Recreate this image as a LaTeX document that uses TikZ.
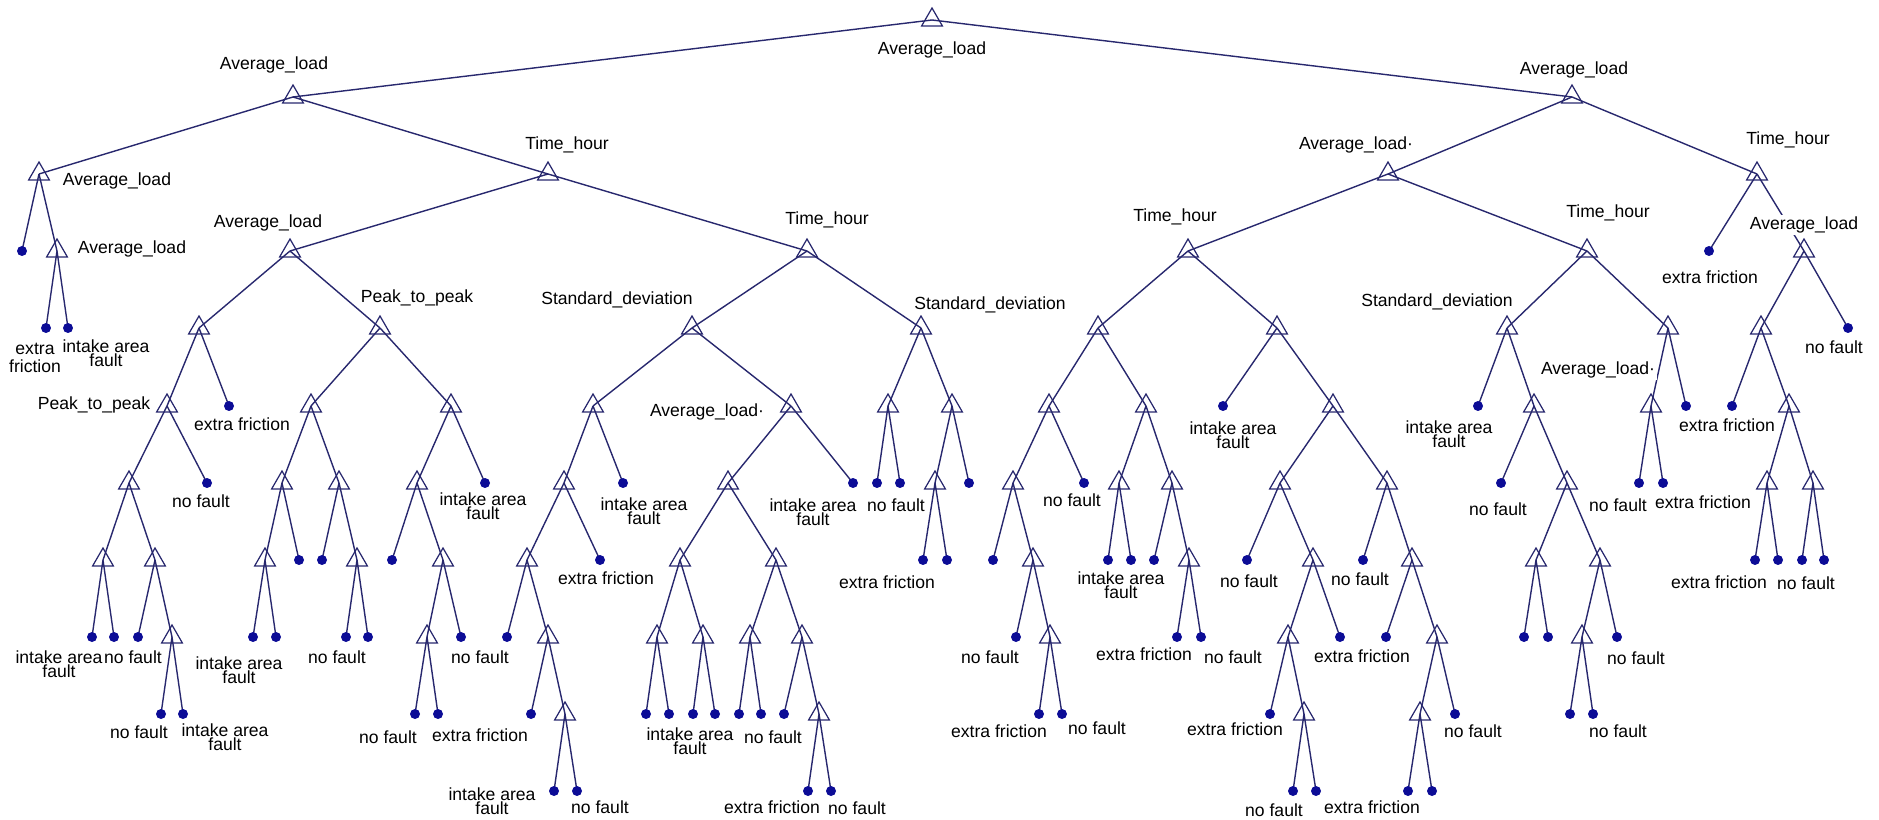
\documentclass[tikz,border=0pt]{standalone}
\usepackage{fontspec}
\setmainfont{Liberation Sans}
\usetikzlibrary{shapes.geometric,backgrounds}

\definecolor{treeline}{RGB}{40,40,110}
\definecolor{leafdot}{RGB}{12,12,150}

\def\px{0.02cm}

\begin{document}
\begin{tikzpicture}[x=\px, y=-\px,
    splitnode/.style={regular polygon, regular polygon sides=3, draw=treeline, line width=0.7pt, minimum size=0.48cm, inner sep=0pt},
    leafnode/.style={circle, fill=leafdot, minimum size=0.2cm, inner sep=0pt},
    lbl/.style={fill=white, inner sep=1pt, font=\fontsize{10}{12}\selectfont},
    leaflbl/.style={align=center, inner sep=0pt, font=\fontsize{10}{8}\selectfont},
    edge/.style={draw=treeline, line width=0.8pt}]
      \useasboundingbox (0,0) rectangle (1879,820);

      % split nodes
      \node[splitnode] (r) at (932,20) {};
      \node[splitnode] (r0) at (293,97) {};
      \node[splitnode] (r1) at (1572,97) {};
      \node[splitnode] (r00) at (39,174) {};
      \node[splitnode] (r01) at (548,174) {};
      \node[splitnode] (r10) at (1388,174) {};
      \node[splitnode] (r11) at (1757,174) {};
      \node[splitnode] (r001) at (57,251) {};
      \node[splitnode] (r010) at (290,251) {};
      \node[splitnode] (r011) at (807,251) {};
      \node[splitnode] (r100) at (1188,251) {};
      \node[splitnode] (r101) at (1587,251) {};
      \node[splitnode] (r111) at (1804,251) {};
      \node[splitnode] (r0100) at (199,328) {};
      \node[splitnode] (r0101) at (380,328) {};
      \node[splitnode] (r0110) at (692,328) {};
      \node[splitnode] (r0111) at (921,328) {};
      \node[splitnode] (r1000) at (1098,328) {};
      \node[splitnode] (r1001) at (1277,328) {};
      \node[splitnode] (r1010) at (1507,328) {};
      \node[splitnode] (r1011) at (1668,328) {};
      \node[splitnode] (r1110) at (1761,328) {};
      \node[splitnode] (r01000) at (167,406) {};
      \node[splitnode] (r01010) at (311,406) {};
      \node[splitnode] (r01011) at (451,406) {};
      \node[splitnode] (r01100) at (593,406) {};
      \node[splitnode] (r01101) at (791,406) {};
      \node[splitnode] (r01110) at (888,406) {};
      \node[splitnode] (r01111) at (952,406) {};
      \node[splitnode] (r10000) at (1049,406) {};
      \node[splitnode] (r10001) at (1146,406) {};
      \node[splitnode] (r10011) at (1333,406) {};
      \node[splitnode] (r10101) at (1534,406) {};
      \node[splitnode] (r10110) at (1651,406) {};
      \node[splitnode] (r11101) at (1789,406) {};
      \node[splitnode] (r010000) at (129,483) {};
      \node[splitnode] (r010100) at (282,483) {};
      \node[splitnode] (r010101) at (339,483) {};
      \node[splitnode] (r010110) at (417,483) {};
      \node[splitnode] (r011000) at (564,483) {};
      \node[splitnode] (r011010) at (728,483) {};
      \node[splitnode] (r011110) at (935,483) {};
      \node[splitnode] (r100000) at (1013,483) {};
      \node[splitnode] (r100010) at (1119,483) {};
      \node[splitnode] (r100011) at (1172,483) {};
      \node[splitnode] (r100110) at (1280,483) {};
      \node[splitnode] (r100111) at (1387,483) {};
      \node[splitnode] (r101011) at (1567,483) {};
      \node[splitnode] (r111010) at (1767,483) {};
      \node[splitnode] (r111011) at (1813,483) {};
      \node[splitnode] (r0100000) at (103,560) {};
      \node[splitnode] (r0100001) at (155,560) {};
      \node[splitnode] (r0101000) at (265,560) {};
      \node[splitnode] (r0101011) at (357,560) {};
      \node[splitnode] (r0101101) at (443,560) {};
      \node[splitnode] (r0110000) at (527,560) {};
      \node[splitnode] (r0110100) at (680,560) {};
      \node[splitnode] (r0110101) at (776,560) {};
      \node[splitnode] (r1000001) at (1033,560) {};
      \node[splitnode] (r1000111) at (1189,560) {};
      \node[splitnode] (r1001101) at (1313,560) {};
      \node[splitnode] (r1001111) at (1412,560) {};
      \node[splitnode] (r1010110) at (1536,560) {};
      \node[splitnode] (r1010111) at (1600,560) {};
      \node[splitnode] (r01000011) at (172,637) {};
      \node[splitnode] (r01011010) at (427,637) {};
      \node[splitnode] (r01100001) at (548,637) {};
      \node[splitnode] (r01101000) at (657,637) {};
      \node[splitnode] (r01101001) at (703,637) {};
      \node[splitnode] (r01101010) at (750,637) {};
      \node[splitnode] (r01101011) at (802,637) {};
      \node[splitnode] (r10000011) at (1050,637) {};
      \node[splitnode] (r10011010) at (1288,637) {};
      \node[splitnode] (r10011111) at (1437,637) {};
      \node[splitnode] (r10101110) at (1582,637) {};
      \node[splitnode] (r011000011) at (565,714) {};
      \node[splitnode] (r011010111) at (819,714) {};
      \node[splitnode] (r100110101) at (1304,714) {};
      \node[splitnode] (r100111110) at (1420,714) {};

      % leaves
      \node[leafnode] (r000) at (22,251) {};
      \node[leafnode] (r110) at (1709,251) {};
      \node[leafnode] (r0010) at (46,328) {};
      \node[leafnode] (r0011) at (68,328) {};
      \node[leafnode] (r1111) at (1848,328) {};
      \node[leafnode] (r01001) at (229,406) {};
      \node[leafnode] (r10010) at (1223,406) {};
      \node[leafnode] (r10100) at (1478,406) {};
      \node[leafnode] (r10111) at (1686,406) {};
      \node[leafnode] (r11100) at (1732,406) {};
      \node[leafnode] (r010001) at (207,483) {};
      \node[leafnode] (r010111) at (485,483) {};
      \node[leafnode] (r011001) at (623,483) {};
      \node[leafnode] (r011011) at (853,483) {};
      \node[leafnode] (r011100) at (877,483) {};
      \node[leafnode] (r011101) at (900,483) {};
      \node[leafnode] (r011111) at (969,483) {};
      \node[leafnode] (r100001) at (1084,483) {};
      \node[leafnode] (r101010) at (1501,483) {};
      \node[leafnode] (r101100) at (1639,483) {};
      \node[leafnode] (r101101) at (1663,483) {};
      \node[leafnode] (r0101001) at (299,560) {};
      \node[leafnode] (r0101010) at (322,560) {};
      \node[leafnode] (r0101100) at (392,560) {};
      \node[leafnode] (r0110001) at (600,560) {};
      \node[leafnode] (r0111100) at (923,560) {};
      \node[leafnode] (r0111101) at (947,560) {};
      \node[leafnode] (r1000000) at (993,560) {};
      \node[leafnode] (r1000100) at (1108,560) {};
      \node[leafnode] (r1000101) at (1131,560) {};
      \node[leafnode] (r1000110) at (1154,560) {};
      \node[leafnode] (r1001100) at (1247,560) {};
      \node[leafnode] (r1001110) at (1363,560) {};
      \node[leafnode] (r1110100) at (1755,560) {};
      \node[leafnode] (r1110101) at (1778,560) {};
      \node[leafnode] (r1110110) at (1802,560) {};
      \node[leafnode] (r1110111) at (1824,560) {};
      \node[leafnode] (r01000000) at (92,637) {};
      \node[leafnode] (r01000001) at (114,637) {};
      \node[leafnode] (r01000010) at (138,637) {};
      \node[leafnode] (r01010000) at (253,637) {};
      \node[leafnode] (r01010001) at (276,637) {};
      \node[leafnode] (r01010110) at (346,637) {};
      \node[leafnode] (r01010111) at (368,637) {};
      \node[leafnode] (r01011011) at (461,637) {};
      \node[leafnode] (r01100000) at (507,637) {};
      \node[leafnode] (r10000010) at (1016,637) {};
      \node[leafnode] (r10001110) at (1177,637) {};
      \node[leafnode] (r10001111) at (1201,637) {};
      \node[leafnode] (r10011011) at (1340,637) {};
      \node[leafnode] (r10011110) at (1386,637) {};
      \node[leafnode] (r10101100) at (1524,637) {};
      \node[leafnode] (r10101101) at (1548,637) {};
      \node[leafnode] (r10101111) at (1617,637) {};
      \node[leafnode] (r010000110) at (161,714) {};
      \node[leafnode] (r010000111) at (183,714) {};
      \node[leafnode] (r010110100) at (415,714) {};
      \node[leafnode] (r010110101) at (438,714) {};
      \node[leafnode] (r011000010) at (531,714) {};
      \node[leafnode] (r011010000) at (646,714) {};
      \node[leafnode] (r011010001) at (669,714) {};
      \node[leafnode] (r011010010) at (693,714) {};
      \node[leafnode] (r011010011) at (715,714) {};
      \node[leafnode] (r011010100) at (739,714) {};
      \node[leafnode] (r011010101) at (761,714) {};
      \node[leafnode] (r011010110) at (784,714) {};
      \node[leafnode] (r100000110) at (1039,714) {};
      \node[leafnode] (r100000111) at (1062,714) {};
      \node[leafnode] (r100110100) at (1270,714) {};
      \node[leafnode] (r100111111) at (1455,714) {};
      \node[leafnode] (r101011100) at (1570,714) {};
      \node[leafnode] (r101011101) at (1593,714) {};
      \node[leafnode] (r0110000110) at (554,791) {};
      \node[leafnode] (r0110000111) at (577,791) {};
      \node[leafnode] (r0110101110) at (808,791) {};
      \node[leafnode] (r0110101111) at (831,791) {};
      \node[leafnode] (r1001101010) at (1293,791) {};
      \node[leafnode] (r1001101011) at (1316,791) {};
      \node[leafnode] (r1001111100) at (1408,791) {};
      \node[leafnode] (r1001111101) at (1432,791) {};

      \begin{scope}[on background layer]
      \draw[edge] (r.center) -- (r0.center) (r.center) -- (r1.center);
      \draw[edge] (r0.center) -- (r00.center) (r0.center) -- (r01.center);
      \draw[edge] (r1.center) -- (r10.center) (r1.center) -- (r11.center);
      \draw[edge] (r00.center) -- (r000.center) (r00.center) -- (r001.center);
      \draw[edge] (r001.center) -- (r0010.center) (r001.center) -- (r0011.center);
      \draw[edge] (r01.center) -- (r010.center) (r01.center) -- (r011.center);
      \draw[edge] (r010.center) -- (r0100.center) (r010.center) -- (r0101.center);
      \draw[edge] (r0100.center) -- (r01000.center) (r0100.center) -- (r01001.center);
      \draw[edge] (r01000.center) -- (r010000.center) (r01000.center) -- (r010001.center);
      \draw[edge] (r010000.center) -- (r0100000.center) (r010000.center) -- (r0100001.center);
      \draw[edge] (r0100000.center) -- (r01000000.center) (r0100000.center) -- (r01000001.center);
      \draw[edge] (r0100001.center) -- (r01000010.center) (r0100001.center) -- (r01000011.center);
      \draw[edge] (r01000011.center) -- (r010000110.center) (r01000011.center) -- (r010000111.center);
      \draw[edge] (r0101.center) -- (r01010.center) (r0101.center) -- (r01011.center);
      \draw[edge] (r01010.center) -- (r010100.center) (r01010.center) -- (r010101.center);
      \draw[edge] (r010100.center) -- (r0101000.center) (r010100.center) -- (r0101001.center);
      \draw[edge] (r0101000.center) -- (r01010000.center) (r0101000.center) -- (r01010001.center);
      \draw[edge] (r010101.center) -- (r0101010.center) (r010101.center) -- (r0101011.center);
      \draw[edge] (r0101011.center) -- (r01010110.center) (r0101011.center) -- (r01010111.center);
      \draw[edge] (r01011.center) -- (r010110.center) (r01011.center) -- (r010111.center);
      \draw[edge] (r010110.center) -- (r0101100.center) (r010110.center) -- (r0101101.center);
      \draw[edge] (r0101101.center) -- (r01011010.center) (r0101101.center) -- (r01011011.center);
      \draw[edge] (r01011010.center) -- (r010110100.center) (r01011010.center) -- (r010110101.center);
      \draw[edge] (r011.center) -- (r0110.center) (r011.center) -- (r0111.center);
      \draw[edge] (r0110.center) -- (r01100.center) (r0110.center) -- (r01101.center);
      \draw[edge] (r01100.center) -- (r011000.center) (r01100.center) -- (r011001.center);
      \draw[edge] (r011000.center) -- (r0110000.center) (r011000.center) -- (r0110001.center);
      \draw[edge] (r0110000.center) -- (r01100000.center) (r0110000.center) -- (r01100001.center);
      \draw[edge] (r01100001.center) -- (r011000010.center) (r01100001.center) -- (r011000011.center);
      \draw[edge] (r011000011.center) -- (r0110000110.center) (r011000011.center) -- (r0110000111.center);
      \draw[edge] (r01101.center) -- (r011010.center) (r01101.center) -- (r011011.center);
      \draw[edge] (r011010.center) -- (r0110100.center) (r011010.center) -- (r0110101.center);
      \draw[edge] (r0110100.center) -- (r01101000.center) (r0110100.center) -- (r01101001.center);
      \draw[edge] (r01101000.center) -- (r011010000.center) (r01101000.center) -- (r011010001.center);
      \draw[edge] (r01101001.center) -- (r011010010.center) (r01101001.center) -- (r011010011.center);
      \draw[edge] (r0110101.center) -- (r01101010.center) (r0110101.center) -- (r01101011.center);
      \draw[edge] (r01101010.center) -- (r011010100.center) (r01101010.center) -- (r011010101.center);
      \draw[edge] (r01101011.center) -- (r011010110.center) (r01101011.center) -- (r011010111.center);
      \draw[edge] (r011010111.center) -- (r0110101110.center) (r011010111.center) -- (r0110101111.center);
      \draw[edge] (r0111.center) -- (r01110.center) (r0111.center) -- (r01111.center);
      \draw[edge] (r01110.center) -- (r011100.center) (r01110.center) -- (r011101.center);
      \draw[edge] (r01111.center) -- (r011110.center) (r01111.center) -- (r011111.center);
      \draw[edge] (r011110.center) -- (r0111100.center) (r011110.center) -- (r0111101.center);
      \draw[edge] (r10.center) -- (r100.center) (r10.center) -- (r101.center);
      \draw[edge] (r100.center) -- (r1000.center) (r100.center) -- (r1001.center);
      \draw[edge] (r1000.center) -- (r10000.center) (r1000.center) -- (r10001.center);
      \draw[edge] (r10000.center) -- (r100000.center) (r10000.center) -- (r100001.center);
      \draw[edge] (r100000.center) -- (r1000000.center) (r100000.center) -- (r1000001.center);
      \draw[edge] (r1000001.center) -- (r10000010.center) (r1000001.center) -- (r10000011.center);
      \draw[edge] (r10000011.center) -- (r100000110.center) (r10000011.center) -- (r100000111.center);
      \draw[edge] (r10001.center) -- (r100010.center) (r10001.center) -- (r100011.center);
      \draw[edge] (r100010.center) -- (r1000100.center) (r100010.center) -- (r1000101.center);
      \draw[edge] (r100011.center) -- (r1000110.center) (r100011.center) -- (r1000111.center);
      \draw[edge] (r1000111.center) -- (r10001110.center) (r1000111.center) -- (r10001111.center);
      \draw[edge] (r1001.center) -- (r10010.center) (r1001.center) -- (r10011.center);
      \draw[edge] (r10011.center) -- (r100110.center) (r10011.center) -- (r100111.center);
      \draw[edge] (r100110.center) -- (r1001100.center) (r100110.center) -- (r1001101.center);
      \draw[edge] (r1001101.center) -- (r10011010.center) (r1001101.center) -- (r10011011.center);
      \draw[edge] (r10011010.center) -- (r100110100.center) (r10011010.center) -- (r100110101.center);
      \draw[edge] (r100110101.center) -- (r1001101010.center) (r100110101.center) -- (r1001101011.center);
      \draw[edge] (r100111.center) -- (r1001110.center) (r100111.center) -- (r1001111.center);
      \draw[edge] (r1001111.center) -- (r10011110.center) (r1001111.center) -- (r10011111.center);
      \draw[edge] (r10011111.center) -- (r100111110.center) (r10011111.center) -- (r100111111.center);
      \draw[edge] (r100111110.center) -- (r1001111100.center) (r100111110.center) -- (r1001111101.center);
      \draw[edge] (r101.center) -- (r1010.center) (r101.center) -- (r1011.center);
      \draw[edge] (r1010.center) -- (r10100.center) (r1010.center) -- (r10101.center);
      \draw[edge] (r10101.center) -- (r101010.center) (r10101.center) -- (r101011.center);
      \draw[edge] (r101011.center) -- (r1010110.center) (r101011.center) -- (r1010111.center);
      \draw[edge] (r1010110.center) -- (r10101100.center) (r1010110.center) -- (r10101101.center);
      \draw[edge] (r1010111.center) -- (r10101110.center) (r1010111.center) -- (r10101111.center);
      \draw[edge] (r10101110.center) -- (r101011100.center) (r10101110.center) -- (r101011101.center);
      \draw[edge] (r1011.center) -- (r10110.center) (r1011.center) -- (r10111.center);
      \draw[edge] (r10110.center) -- (r101100.center) (r10110.center) -- (r101101.center);
      \draw[edge] (r11.center) -- (r110.center) (r11.center) -- (r111.center);
      \draw[edge] (r111.center) -- (r1110.center) (r111.center) -- (r1111.center);
      \draw[edge] (r1110.center) -- (r11100.center) (r1110.center) -- (r11101.center);
      \draw[edge] (r11101.center) -- (r111010.center) (r11101.center) -- (r111011.center);
      \draw[edge] (r111010.center) -- (r1110100.center) (r111010.center) -- (r1110101.center);
      \draw[edge] (r111011.center) -- (r1110110.center) (r111011.center) -- (r1110111.center);
      \end{scope}

      % split labels
      \node[lbl] (tr) at (932,50) {Average\_load};
      \node[lbl] (tr0) at (274,65) {Average\_load};
      \node[lbl] (tr1) at (1574,70) {Average\_load};
      \node[lbl] (tr00) at (117,181) {Average\_load};
      \node[lbl] (tr01) at (567,145) {Time\_hour};
      \node[lbl] (tr001) at (132,249) {Average\_load};
      \node[lbl] (tr010) at (268,223) {Average\_load};
      \node[lbl] (tr011) at (827,220) {Time\_hour};
      \node[lbl] (tr0101) at (417,298) {Peak\_to\_peak};
      \node[lbl] (tr01000) at (94,405) {Peak\_to\_peak};
      \node[lbl] (tr0110) at (617,300) {Standard\_deviation};
      \node[lbl] (tr0111) at (990,305) {Standard\_deviation};
      \node[lbl] (tr01101) at (707,412) {Average\_load·};
      \node[lbl] (tr10) at (1356,145) {Average\_load·};
      \node[lbl] (tr11) at (1788,140) {Time\_hour};
      \node[lbl] (tr100) at (1175,217) {Time\_hour};
      \node[lbl] (tr101) at (1608,213) {Time\_hour};
      \node[lbl] (tr1010) at (1437,302) {Standard\_deviation};
      \node[lbl] (tr1011) at (1598,370) {Average\_load·};
      \node[lbl] (tr111) at (1804,225) {Average\_load};

      % leaf labels
      \node[leaflbl, font=\fontsize{10}{9.8}\selectfont] (tr0010) at (35,358) {extra\\friction};
      \node[leaflbl] (tr0011) at (106,353) {intake area\\fault};
      \node[leaflbl] (tr01001) at (242,424) {extra friction};
      \node[leaflbl] (tr010001) at (201,501) {no fault};
      \node[leaflbl] (tr01000000) at (59,664) {intake area\\fault};
      \node[leaflbl] (tr01000001) at (133,657) {no fault};
      \node[leaflbl] (tr010000110) at (139,732) {no fault};
      \node[leaflbl] (tr010000111) at (225,737) {intake area\\fault};
      \node[leaflbl] (tr01010000) at (239,670) {intake area\\fault};
      \node[leaflbl] (tr01010110) at (337,657) {no fault};
      \node[leaflbl] (tr010111) at (483,506) {intake area\\fault};
      \node[leaflbl] (tr01011011) at (480,657) {no fault};
      \node[leaflbl] (tr010110100) at (388,737) {no fault};
      \node[leaflbl] (tr010110101) at (480,735) {extra friction};
      \node[leaflbl] (tr011001) at (644,511) {intake area\\fault};
      \node[leaflbl] (tr0110001) at (606,578) {extra friction};
      \node[leaflbl] (tr0110000110) at (492,801) {intake area\\fault};
      \node[leaflbl] (tr0110000111) at (600,807) {no fault};
      \node[leaflbl] (tr011011) at (813,512) {intake area\\fault};
      \node[leaflbl] (tr011010010) at (690,741) {intake area\\fault};
      \node[leaflbl] (tr011010101) at (773,737) {no fault};
      \node[leaflbl] (tr0110101110) at (772,807) {extra friction};
      \node[leaflbl] (tr0110101111) at (857,808) {no fault};
      \node[leaflbl] (tr011101) at (896,505) {no fault};
      \node[leaflbl] (tr0111100) at (887,582) {extra friction};
      \node[leaflbl] (tr100001) at (1072,500) {no fault};
      \node[leaflbl] (tr10000010) at (990,657) {no fault};
      \node[leaflbl] (tr100000110) at (999,731) {extra friction};
      \node[leaflbl] (tr100000111) at (1097,728) {no fault};
      \node[leaflbl] (tr1000100) at (1121,585) {intake area\\fault};
      \node[leaflbl] (tr10001110) at (1144,654) {extra friction};
      \node[leaflbl] (tr10001111) at (1233,657) {no fault};
      \node[leaflbl] (tr10010) at (1233,435) {intake area\\fault};
      \node[leaflbl] (tr1001100) at (1249,581) {no fault};
      \node[leaflbl] (tr10011011) at (1362,656) {extra friction};
      \node[leaflbl] (tr100110100) at (1235,729) {extra friction};
      \node[leaflbl] (tr1001101010) at (1274,810) {no fault};
      \node[leaflbl] (tr1001110) at (1360,579) {no fault};
      \node[leaflbl] (tr100111111) at (1473,731) {no fault};
      \node[leaflbl] (tr1001111100) at (1372,807) {extra friction};
      \node[leaflbl] (tr10100) at (1449,434) {intake area\\fault};
      \node[leaflbl] (tr101010) at (1498,509) {no fault};
      \node[leaflbl] (tr10101111) at (1636,658) {no fault};
      \node[leaflbl] (tr101011101) at (1618,731) {no fault};
      \node[leaflbl] (tr101100) at (1618,505) {no fault};
      \node[leaflbl] (tr101101) at (1703,502) {extra friction};
      \node[leaflbl] (tr110) at (1710,277) {extra friction};
      \node[leaflbl] (tr1111) at (1834,347) {no fault};
      \node[leaflbl] (tr11100) at (1727,425) {extra friction};
      \node[leaflbl] (tr1110101) at (1719,582) {extra friction};
      \node[leaflbl] (tr1110110) at (1806,583) {no fault};
    \end{tikzpicture}
\end{document}
